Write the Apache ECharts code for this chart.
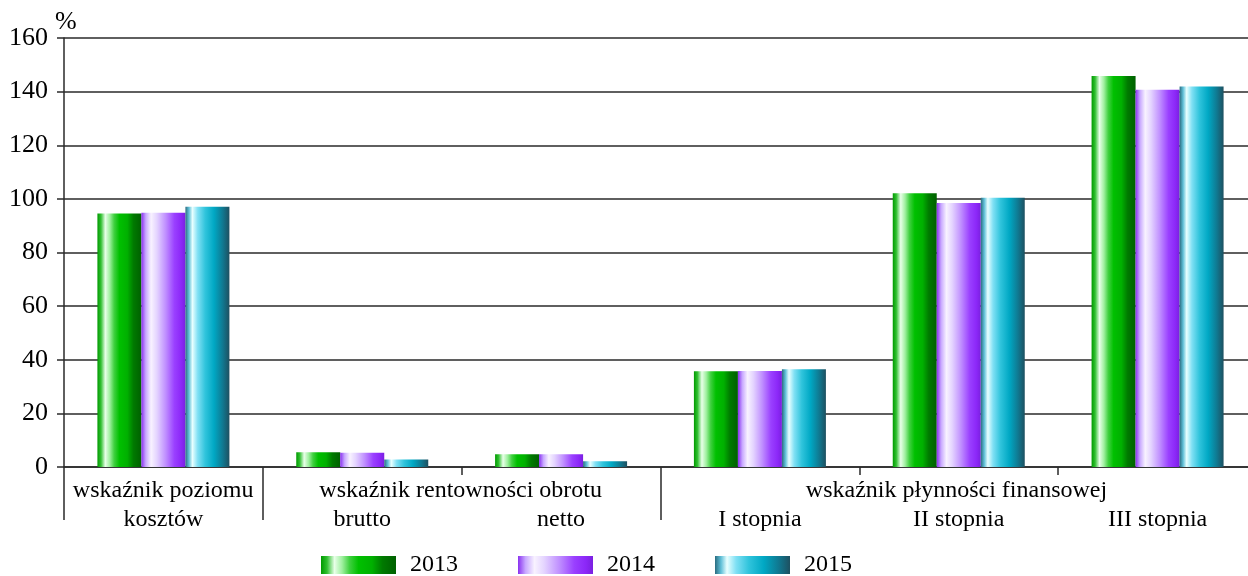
<!DOCTYPE html>
<html><head><meta charset="utf-8">
<script src="https://cdn.jsdelivr.net/npm/echarts@6/dist/echarts.min.js"></script>
<style>html,body{margin:0;padding:0;background:#fff;overflow:hidden;width:1248px;height:576px}#c{width:1257px;height:576px}</style>
</head><body><div id="c"></div><script>
// ---- data ----
const categories = ['kosztów', 'brutto', 'netto', 'I stopnia', 'II stopnia', 'III stopnia'];
const groupLabelPositions = [0.5, 2, 4.5];
const groupLabelTexts = ['wskaźnik poziomu', 'wskaźnik rentowności obrotu', 'wskaźnik płynności finansowej'];
const seriesNames = ['2013', '2014', '2015'];
const values2013 = [94.5, 5.5, 4.8, 35.7, 102.1, 145.8];
const values2014 = [94.8, 5.3, 4.8, 35.8, 98.5, 140.7];
const values2015 = [97.1, 2.8, 2.1, 36.5, 100.4, 141.9];
const yMin = 0, yMax = 160, yStep = 20;
const shortTickIndices = [2, 4, 5];
const longTickIndices = [0, 1, 3];

// ---- styles ----
const FONT = 'Liberation Serif';
const lineColor = '#2a2a2a';
function grad(stops) {
  return { type: 'linear', x: 0, y: 0, x2: 1, y2: 0,
    colorStops: stops.map(s => ({ offset: s[0], color: s[1] })) };
}
const fills = [
  grad([[0,'#009a00'],[0.08,'#30c030'],[0.18,'#e8ffe8'],[0.28,'#a0f0a0'],[0.38,'#40d040'],[0.5,'#00c000'],[0.68,'#00b000'],[0.82,'#007a00'],[1,'#006000']]),
  grad([[0,'#8a30f0'],[0.1,'#c8a8ff'],[0.22,'#f8f2ff'],[0.35,'#e4d4ff'],[0.55,'#c090ff'],[0.75,'#9a40ff'],[0.9,'#8c28f8'],[1,'#7a20e0']]),
  grad([[0,'#2a6c80'],[0.08,'#60c0d8'],[0.16,'#e8ffff'],[0.28,'#80e0f4'],[0.45,'#30c4dc'],[0.65,'#00a8c4'],[0.85,'#107890'],[1,'#1e5060']])
];
const allValues = [values2013, values2014, values2015];

const gridBox = { left: 64, top: 38, right: 0, height: 429 };

const chart = echarts.init(document.getElementById('c'), null, { renderer: 'canvas' });
chart.setOption({
  animation: false,
  backgroundColor: '#fff',
  textStyle: { fontFamily: FONT, color: '#000' },
  grid: [Object.assign({}, gridBox), Object.assign({}, gridBox), Object.assign({}, gridBox)],
  legend: {
    left: 321, top: 553, padding: 0,
    itemWidth: 75, itemHeight: 18, itemGap: 60,
    icon: 'rect',
    textStyle: { fontFamily: FONT, fontSize: 24, color: '#000', padding: [0, 0, 0, 9], lineHeight: 24 },
    data: seriesNames
  },
  xAxis: [
    {
      gridIndex: 0, type: 'category', data: categories,
      axisLine: { show: true, lineStyle: { color: lineColor, width: 1.5 } },
      axisTick: { show: true, length: 8, lineStyle: { color: lineColor, width: 1.5 },
        interval: (i) => shortTickIndices.includes(i) },
      axisLabel: { margin: 38, fontFamily: FONT, fontSize: 24, color: '#000', lineHeight: 29, interval: 0 },
      splitLine: { show: false }
    },
    {
      gridIndex: 1, type: 'category', data: categories,
      axisLine: { show: false },
      axisTick: { show: true, length: 53, lineStyle: { color: lineColor, width: 1.5 },
        interval: (i) => longTickIndices.includes(i) },
      axisLabel: { show: false },
      splitLine: { show: false }
    },
    {
      gridIndex: 2, type: 'value', min: 0, max: categories.length, interval: 0.5,
      axisLine: { show: false }, axisTick: { show: false }, splitLine: { show: false },
      axisLabel: {
        margin: 9, fontFamily: FONT, fontSize: 24, color: '#000', lineHeight: 29,
        showMinLabel: true, showMaxLabel: true,
        formatter: (v) => {
          const k = groupLabelPositions.findIndex(p => Math.abs(p - v) < 1e-6);
          return k >= 0 ? groupLabelTexts[k] : '';
        }
      }
    }
  ],
  yAxis: [
    {
      gridIndex: 0, type: 'value', min: yMin, max: yMax, interval: yStep,
      name: '%', nameLocation: 'end', nameGap: 3,
      nameTextStyle: { fontFamily: FONT, fontSize: 26, color: '#000', align: 'left', padding: [0, 0, 0, -9] },
      axisLine: { show: true, lineStyle: { color: lineColor, width: 1.5 } },
      axisTick: { show: true, length: 7, lineStyle: { color: lineColor, width: 1.5 } },
      axisLabel: { margin: 16, fontFamily: FONT, fontSize: 26, color: '#000' },
      splitLine: { show: true, lineStyle: { color: lineColor, width: 1.5 } }
    },
    { gridIndex: 1, type: 'value', show: false, min: 0, max: 1 },
    { gridIndex: 2, type: 'value', show: false, min: 0, max: 1 }
  ],
  series: seriesNames.map((name, k) => ({
    name: name, type: 'bar', xAxisIndex: 0, yAxisIndex: 0,
    data: allValues[k], barWidth: 44, barGap: '0%',
    itemStyle: { color: fills[k] },
    emphasis: { disabled: true }
  }))
});
</script></body></html>
